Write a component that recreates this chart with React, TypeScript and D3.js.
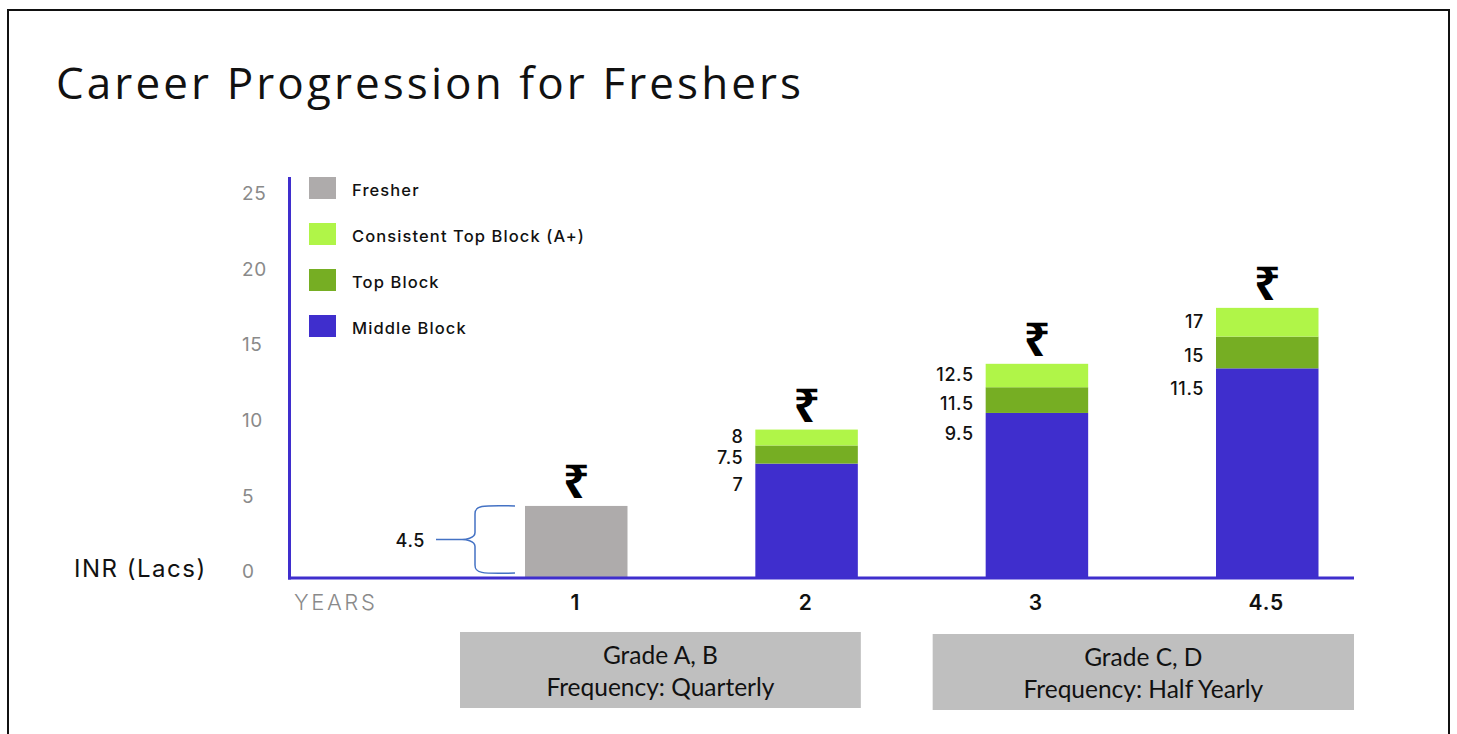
import * as d3 from "d3";

// data
const years = ["1", "2", "3", "4.5"];
const fresher = [4.7, 0, 0, 0];
const middleBlock = [0, 7.5, 10.85, 13.8];
const topBlock = [0, 1.2, 1.7, 2.1];
const consistentTop = [0, 1.05, 1.55, 1.9];

// printed labels (not the drawn heights)
const fresherLabels = ["4.5", "", "", ""];
const middleLabels = ["", "7", "9.5", "11.5"];
const topLabels = ["", "7.5", "11.5", "15"];
const consistentLabels = ["", "8", "12.5", "17"];

const yTicks = [0, 5, 10, 15, 20, 25];
const legendNames = ["Fresher", "Consistent Top Block (A+)", "Top Block", "Middle Block"];
const legendKeys = ["fresher", "consistent", "top", "middle"];
const gradeLines = [
  ["Grade A, B", "Frequency: Quarterly"],
  ["Grade C, D", "Frequency: Half Yearly"],
];

const colors: Record<string, string> = {
  fresher: "#aeabab",
  middle: "#3f2ecd",
  top: "#76ae23",
  consistent: "#b0f548",
};

const uiFont = "Inter, 'Open Sans', sans-serif";

export default function App() {
  const width = 1457;
  const height = 734;
  const axisX = 289.5;
  const baseY = 577;
  const axisEnd = 1354;

  const y = d3.scaleLinear().domain([0, 25]).range([baseY, baseY - 25 * 15.12]);
  const x = d3.scaleBand().domain(years).range([525, 1318.5]).paddingInner(0.555);
  const bw = x.bandwidth();

  const rows = years.map((yr, i) => ({
    year: yr,
    fresher: fresher[i],
    middle: middleBlock[i],
    top: topBlock[i],
    consistent: consistentTop[i],
  }));
  const keys = ["fresher", "middle", "top", "consistent"];
  const series = d3.stack<any>().keys(keys)(rows);

  const totals = rows.map((r) => r.fresher + r.middle + r.top + r.consistent);

  // brace next to the fresher bar
  const bTop = y(fresher[0]);
  const bBot = y(0) - 4;
  const bMid = (bTop + bBot) / 2;
  const bx = (x("1") as number) - 10;
  const bv = bx - 40;
  const tip = bv - 39;
  const brace = d3.path();
  brace.moveTo(bx, bTop);
  brace.bezierCurveTo(bv + 5, bTop - 1, bv, bTop, bv, bTop + 8);
  brace.lineTo(bv, bMid - 7);
  brace.bezierCurveTo(bv, bMid - 1, bv - 10, bMid, tip + 26, bMid);
  brace.lineTo(tip, bMid);
  brace.moveTo(tip + 26, bMid);
  brace.bezierCurveTo(bv - 10, bMid, bv, bMid + 1, bv, bMid + 7);
  brace.lineTo(bv, bBot - 8);
  brace.bezierCurveTo(bv, bBot, bv + 5, bBot + 1, bx, bBot);

  const boxes = [
    { x0: (x("1") as number) - 65, x1: (x("2") as number) + bw + 3, y0: 632, lines: gradeLines[0] },
    { x0: (x("3") as number) - 53, x1: axisEnd, y0: 634, lines: gradeLines[1] },
  ];

  const labelSets = [
    { key: "middle", labels: middleLabels },
    { key: "top", labels: topLabels },
    { key: "consistent", labels: consistentLabels },
  ];

  return (
    <svg
      width={width}
      height={height}
      style={{ position: "absolute", left: 0, top: 0, background: "#fff" }}
    >
      <rect x={8} y={10} width={1441} height={740} fill="none" stroke="#111" strokeWidth={2} />

      <text
        x={56}
        y={99}
        fontFamily="'Open Sans', sans-serif"
        fontSize={44}
        letterSpacing={3.1}
        fill="#111"
      >
        Career Progression for Freshers
      </text>

      {/* y ticks */}
      {yTicks.map((t) => (
        <text
          key={t}
          x={242}
          y={y(t) - 4}
          dominantBaseline="middle"
          fontFamily={uiFont}
          fontSize={19}
          letterSpacing={0.6}
          fill="#8a8a8a"
        >
          {t}
        </text>
      ))}

      {/* bars */}
      {series.map((s) => (
        <g key={s.key} fill={colors[s.key]}>
          {s.map((d, i) =>
            d[1] - d[0] > 0 ? (
              <rect
                key={i}
                x={x(years[i])}
                y={y(d[1])}
                width={bw}
                height={y(d[0]) - y(d[1])}
              />
            ) : null
          )}
        </g>
      ))}

      {/* rupee signs */}
      {years.map((yr, i) => (
        <text
          key={yr}
          x={(x(yr) as number) + bw / 2}
          y={y(totals[i]) - 8}
          textAnchor="middle"
          fontFamily="'Noto Sans', 'DejaVu Sans', sans-serif"
          fontWeight={700}
          fontSize={46}
          fill="#000"
        >
          ₹
        </text>
      ))}

      {/* value labels */}
      {labelSets.map((ls) => {
        const s = series.find((q) => q.key === ls.key)!;
        return ls.labels.map((lab, i) => {
          if (!lab) return null;
          const d = s[i];
          const ly =
            ls.key === "middle"
              ? y(d[1]) + 22
              : ls.key === "top"
              ? (y(d[0]) + y(d[1])) / 2 + 5
              : (y(d[0]) + y(d[1])) / 2 + 1;
          return (
            <text
              key={ls.key + i}
              x={(x(years[i]) as number) - 12}
              y={ly}
              textAnchor="end"
              dominantBaseline="middle"
              fontFamily={uiFont}
              fontWeight={500}
              fontSize={18}
              letterSpacing={0.6}
              fill="#111"
            >
              {lab}
            </text>
          );
        });
      })}

      {/* brace + fresher label */}
      <path d={brace.toString()} fill="none" stroke="#4472c4" strokeWidth={1.5} />
      <text
        x={tip - 11}
        y={bMid + 3}
        textAnchor="end"
        dominantBaseline="middle"
        fontFamily={uiFont}
        fontWeight={500}
        fontSize={18}
        letterSpacing={0.6}
        fill="#111"
      >
        {fresherLabels[0]}
      </text>

      {/* axes */}
      <line x1={axisX} x2={axisX} y1={177} y2={baseY + 2.5} stroke="#3f2ecd" strokeWidth={3} />
      <line x1={axisX - 1.5} x2={axisEnd} y1={baseY + 1} y2={baseY + 1} stroke="#3f2ecd" strokeWidth={3} />

      {/* legend */}
      {legendKeys.map((k, i) => {
        const cy = 188 + i * 46;
        return (
          <g key={k}>
            <rect x={309} y={cy - 11} width={27} height={22} fill={colors[k]} />
            <text
              x={352}
              y={cy + 3}
              dominantBaseline="middle"
              fontFamily={uiFont}
              fontWeight={500}
              fontSize={16.5}
              letterSpacing={1.1}
              fill="#111"
            >
              {legendNames[i]}
            </text>
          </g>
        );
      })}

      <text
        x={74}
        y={570}
        dominantBaseline="middle"
        fontFamily={uiFont}
        fontSize={24}
        letterSpacing={1.5}
        fill="#111"
      >
        INR (Lacs)
      </text>
      <text
        x={294}
        y={604}
        dominantBaseline="middle"
        fontFamily={uiFont}
        fontWeight={300}
        fontSize={22}
        letterSpacing={2.6}
        fill="#8a8a8a"
      >
        YEARS
      </text>
      {years.map((yr) => (
        <text
          key={yr}
          x={(x(yr) as number) + bw / 2 - 1}
          y={604}
          textAnchor="middle"
          dominantBaseline="middle"
          fontFamily={uiFont}
          fontWeight={600}
          fontSize={21}
          letterSpacing={0.8}
          fill="#111"
        >
          {yr}
        </text>
      ))}

      {/* grade boxes */}
      {boxes.map((b, i) => (
        <g key={i}>
          <rect x={b.x0} y={b.y0} width={b.x1 - b.x0} height={76} fill="#bfbfbf" />
          {b.lines.map((l, j) => (
            <text
              key={j}
              x={(b.x0 + b.x1) / 2}
              y={b.y0 + 26 + j * 32}
              textAnchor="middle"
              dominantBaseline="middle"
              fontFamily="Lato, sans-serif"
              fontSize={24.5}
              fill="#111"
            >
              {l}
            </text>
          ))}
        </g>
      ))}
    </svg>
  );
}
